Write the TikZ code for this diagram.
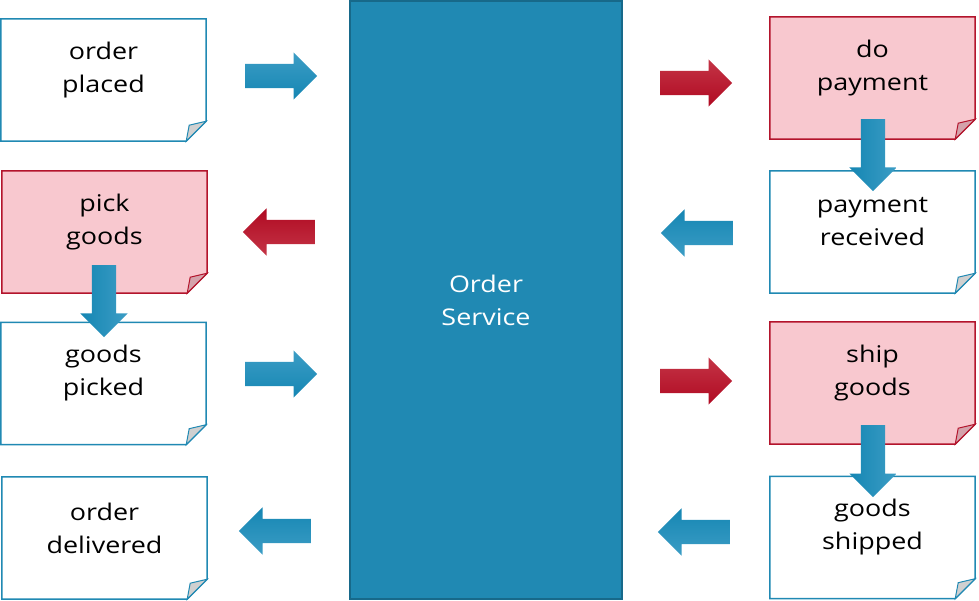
\documentclass[tikz,border=0pt]{standalone}
\usepackage{fontspec}
\usepackage{tikz}
\usetikzlibrary{shapes.arrows,backgrounds,positioning}
\newfontfamily\notefont[FakeStretch=1.17]{Open Sans}
\definecolor{blueOrd}{HTML}{2089B3}
\definecolor{darkblueOrd}{HTML}{17698A}
\definecolor{redOrd}{HTML}{B3142C}
\definecolor{pinkOrd}{HTML}{F8C8CF}
\definecolor{foldGray}{HTML}{D0D0D0}
\definecolor{foldPink}{HTML}{D4A2AB}
\definecolor{lightblueArr}{HTML}{3C9DC5}
\definecolor{darkblueArr}{HTML}{1586B3}
\definecolor{lightredArr}{HTML}{C43446}
\definecolor{darkredArr}{HTML}{B00A22}

\begin{document}
\begin{tikzpicture}[x=1pt, y=-1pt,
    note/.style={minimum width=205pt, minimum height=122pt, inner sep=0pt,
      label={[notetext]center:#1}},
    notetext/.style={align=center, yshift=10pt, font=\notefont\fontsize{23}{33}\selectfont},
    blockarrow/.style={single arrow, minimum height=72pt, minimum width=47pt,
      single arrow head extend=11.5pt, single arrow tip angle=90,
      inner xsep=0pt, inner ysep=12pt, anchor=tail},
    rblue/.style={blockarrow, top color=lightblueArr, bottom color=darkblueArr},
    lblue/.style={blockarrow, shape border rotate=180, top color=darkblueArr, bottom color=lightblueArr},
    dblue/.style={blockarrow, shape border rotate=270, inner xsep=12pt, inner ysep=0pt,
      left color=darkblueArr, right color=lightblueArr},
    rred/.style={blockarrow, top color=lightredArr, bottom color=darkredArr},
    lred/.style={blockarrow, shape border rotate=180, top color=darkredArr, bottom color=lightredArr}]
  \useasboundingbox (0,0) rectangle (979,601);

  % service
  \node[minimum width=272pt, minimum height=598pt, fill=blueOrd, draw=darkblueOrd, line width=1.5pt,
    align=center, text=white, font=\notefont\fontsize{23}{33}\selectfont] (service) at (486,300) {Order\\Service};

  % notes
  \node[note={order\\placed}] (placed) at (103.5,80) {};
  \node[note={pick\\goods}] (pick) at (104.5,232) {};
  \node[note={goods\\picked}] (picked) at (103.5,383.5) {};
  \node[note={order\\delivered}] (delivered) at (104.5,538) {};
  \node[note={do\\payment}] (dopay) at (872.5,78) {};
  \node[note={payment\\received}] (received) at (872.5,232) {};
  \node[note={ship\\goods}] (ship) at (872.5,383) {};
  \node[note={goods\\shipped}] (shipped) at (872.5,537.5) {};

  \begin{scope}[on background layer]
    \foreach \n/\d/\f/\g in {placed/blueOrd/white/foldGray, pick/redOrd/pinkOrd/foldPink,
        picked/blueOrd/white/foldGray, delivered/blueOrd/white/foldGray,
        dopay/redOrd/pinkOrd/foldPink, received/blueOrd/white/foldGray,
        ship/redOrd/pinkOrd/foldPink, shipped/blueOrd/white/foldGray}{
      \draw[\d, line width=1.5pt, fill=\f] (\n.north west) -- (\n.north east)
        -- ([yshift=20pt]\n.south east) -- ([xshift=-20pt]\n.south east) -- (\n.south west) -- cycle;
      \draw[\d, line width=1pt, fill=\g] ([yshift=20pt]\n.south east)
        -- ([xshift=-17pt,yshift=16pt]\n.south east) -- ([xshift=-20pt]\n.south east) -- cycle;
    }
  \end{scope}

  % arrows (placed by their tails)
  \node[rblue] (arr1) at (245,76) {};
  \node[lred] (arr2) at (315,232) {};
  \node[rblue] (arr3) at (245,374) {};
  \node[lblue] (arr4) at (311,531) {};
  \node[rred] (arr5) at (660,83) {};
  \node[lblue] (arr6) at (733,233) {};
  \node[rred] (arr7) at (660,381) {};
  \node[lblue] (arr8) at (730,532) {};
  \node[dblue] (arr9) at (873,119) {};
  \node[dblue] (arr10) at (104,265) {};
  \node[dblue] (arr11) at (873,425) {};
\end{tikzpicture}
\end{document}
